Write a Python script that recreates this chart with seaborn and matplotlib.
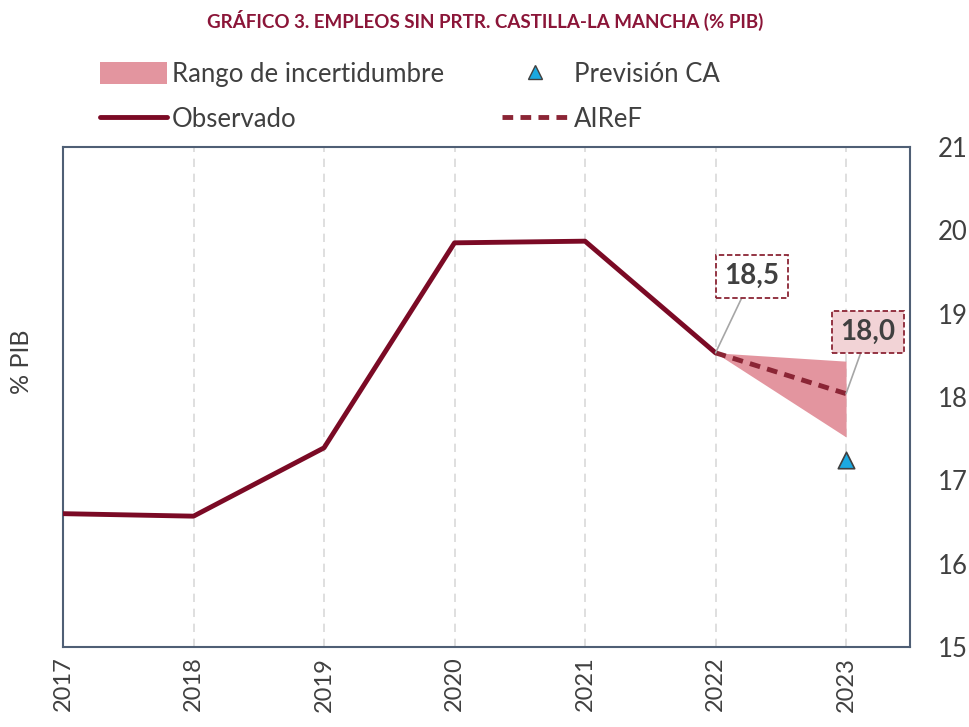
import matplotlib
matplotlib.use("Agg")
import matplotlib.pyplot as plt
import seaborn as sns
import pandas as pd
from matplotlib.patches import Patch
from matplotlib.lines import Line2D

years = [2017, 2018, 2019, 2020, 2021, 2022]
observado = [16.60, 16.57, 17.39, 19.85, 19.87, 18.53]
airef_years = [2022, 2023]
airef = [18.53, 18.04]
band_low = [18.53, 17.52]
band_high = [18.53, 18.43]
prev_year = [2023]
prev_ca = [17.24]
labels = ["18,5", "18,0"]
yticks = [15, 16, 17, 18, 19, 20, 21]

sns.set_theme(style="white")
plt.rcParams['font.family'] = ['Lato', 'DejaVu Sans']

RED = "#7b0a25"
DASH = "#8b2535"
PINK = "#e3959f"
TXT = "#404040"
SPINE = "#4f5f75"

fig = plt.figure(figsize=(9.7, 7.27), dpi=100)
ax = fig.add_axes([63/970, 1-647/727, (910-63)/970, 500/727])

df_obs = pd.DataFrame({"year": years, "value": observado})
df_air = pd.DataFrame({"year": airef_years, "value": airef})

ax.fill_between(airef_years, band_low, band_high, color=PINK, lw=0, zorder=2)
sns.lineplot(data=df_obs, x="year", y="value", ax=ax, color=RED, lw=3.5, zorder=4)
sns.lineplot(data=df_air, x="year", y="value", ax=ax, color=DASH, lw=3.5, zorder=4)
ax.lines[-1].set_dashes([2.2, 1.5])
sns.scatterplot(x=prev_year, y=prev_ca, ax=ax, marker="^", s=140, color="#1ba9e1",
                edgecolor="#404040", linewidth=1.2, zorder=5)

ax.set_xlim(2017, 2023.49)
ax.set_ylim(15, 21)
ax.set_xticks(years + [2023])
ax.set_xticklabels([str(y) for y in years + [2023]], rotation=90, fontsize=17, color=TXT)
ax.yaxis.tick_right()
ax.set_yticks(yticks)
ax.set_yticklabels([str(v) for v in yticks], fontsize=18.5, color=TXT)
ax.tick_params(axis='y', pad=20, length=0)
ax.tick_params(axis='x', pad=7, length=0)
ax.set_xlabel("")
ax.set_ylabel("")
fig.text(22/970, 1-362/727, "% PIB", rotation=90, ha='center', va='center', fontsize=18, color=TXT)

for x in years[1:] + [2023]:
    ax.axvline(x, color="#d9d9d9", lw=1.2, ls=(0, (5, 4)), zorder=1)
for s in ax.spines.values():
    s.set_color(SPINE)
    s.set_linewidth(1.5)

# annotations
ann = [(2022, airef[0], labels[0], 2022.28, 19.45, "white"),
       (2023, airef[1], labels[1], 2023.17, 18.78, "#f2d3d6")]
for x, y, t, tx, ty, fc in ann:
    ax.annotate(t, xy=(x, y), xytext=(tx, ty), ha='center', va='center',
                fontsize=20, fontweight='bold', color=TXT,
                bbox=dict(boxstyle="square,pad=0.3", fc=fc, ec=DASH, ls=(0, (3, 1.5)), lw=1.3),
                arrowprops=dict(arrowstyle='-', color="#a6a6a6", lw=1.2, shrinkA=0, shrinkB=0),
                zorder=6)

fig.text(485/970, 1-20/727, "GRÁFICO 3. EMPLEOS SIN PRTR. CASTILLA-LA MANCHA (% PIB)",
         ha='center', va='center', fontsize=13.5, fontweight='bold', color="#8b1538")

handles = [Patch(facecolor=PINK, edgecolor='none'),
           Line2D([0], [0], color=RED, lw=3.5),
           Line2D([0], [0], marker='^', color='none', markerfacecolor="#1ba9e1",
                  markeredgecolor="#404040", markersize=10),
           Line2D([0], [0], color=DASH, lw=3.5, dashes=[2.2, 1.5])]
names = ["Rango de incertidumbre", "Observado", "Previsión CA", "AIReF"]
leg = fig.legend(handles, names, ncol=2, loc='center', bbox_to_anchor=(410/970, 1-97/727),
                 frameon=False, fontsize=18.5, handlelength=2.6, handleheight=0.95,
                 handletextpad=0.2, columnspacing=2.25, labelspacing=0.8, labelcolor=TXT)

fig.savefig("out.png", dpi=100)
